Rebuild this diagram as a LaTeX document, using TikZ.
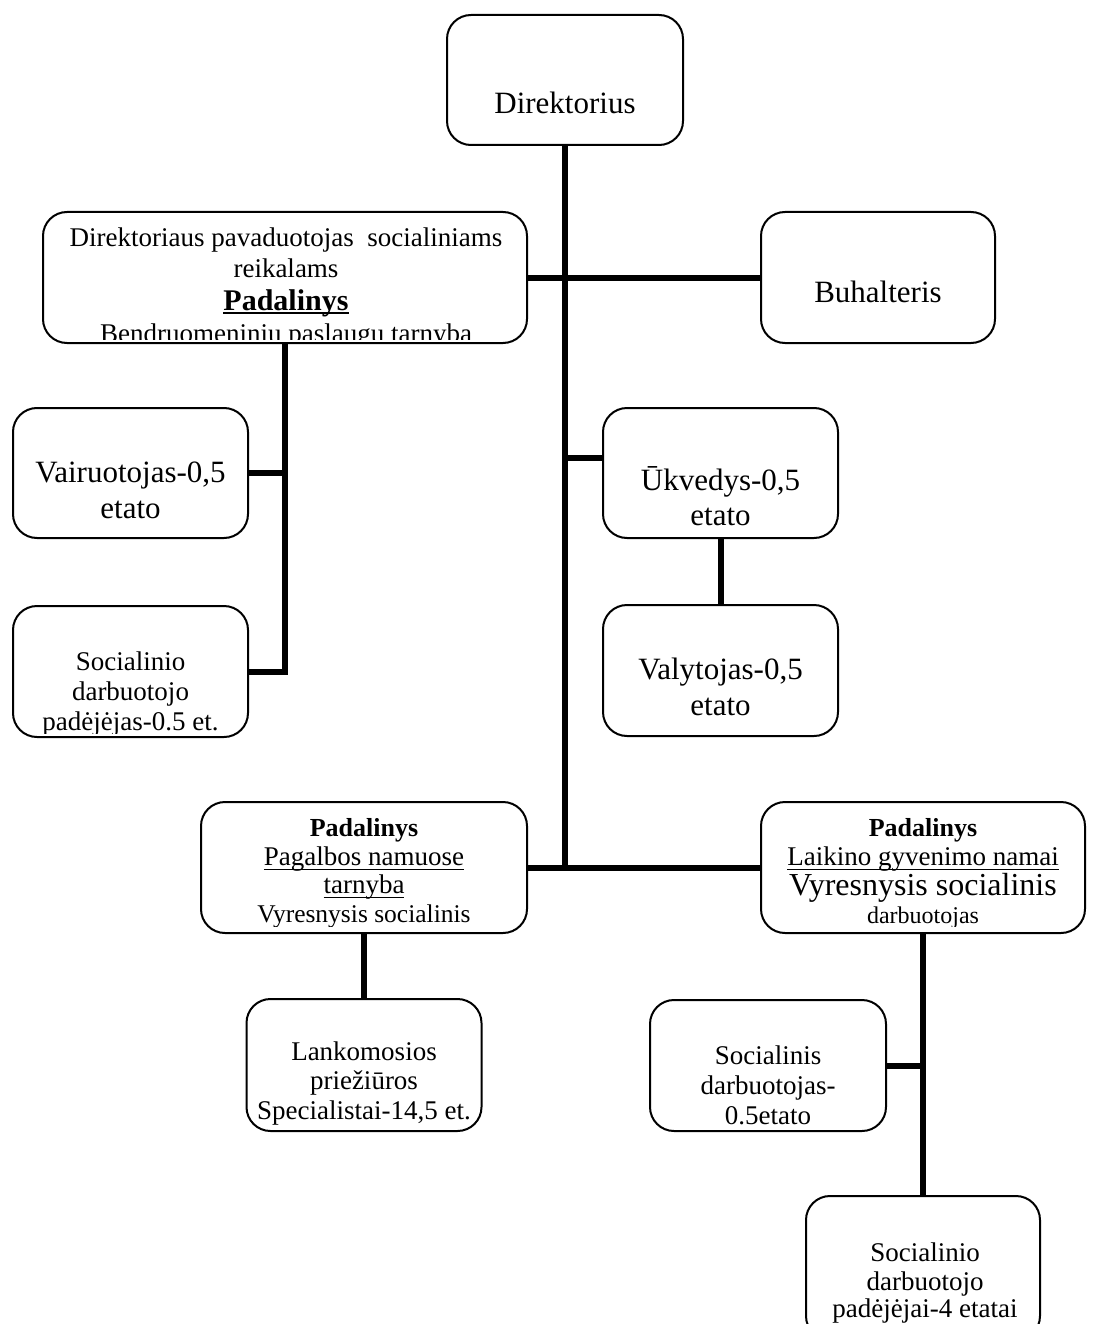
\documentclass[tikz,border=0pt]{standalone}
\usepackage{fontspec}
\setmainfont{Liberation Serif}
\newcommand\ulx[3]{\setbox0=\hbox{#1}\leavevmode\rlap{\rule[-#2]{\wd0}{#3}}\box0}
\newcommand\fs[1]{\fontsize{#1}{#1}\selectfont}
\begin{document}
\begin{tikzpicture}[x=1pt,y=-1pt,
  box/.style={draw, line width=2pt, rounded corners=24pt, fill=white, inner sep=0pt},
  conn/.style={line width=6pt, line join=miter},
  t/.style={anchor=base, inner sep=0pt}]
\useasboundingbox (0,0) rectangle (1094,1324);
\fill[white] (0,0) rectangle (1094,1324);

% boxes
\node[box, minimum width=236pt, minimum height=130pt] (dir) at (565,80) {};
\node[box, minimum width=484pt, minimum height=131pt] (dep) at (285,277.5) {};
\node[box, minimum width=234pt, minimum height=131pt] (buh) at (878,277.5) {};
\node[box, minimum width=235pt, minimum height=130pt] (vai) at (130.5,473) {};
\node[box, minimum width=235pt, minimum height=131pt] (sdp) at (130.5,671.5) {};
\node[box, minimum width=235pt, minimum height=130pt] (ukv) at (720.5,473) {};
\node[box, minimum width=235pt, minimum height=131pt] (val) at (720.5,670.5) {};
\node[box, minimum width=326pt, minimum height=131pt] (pag) at (364,867.5) {};
\node[box, minimum width=324pt, minimum height=131pt] (lai) at (923,867.5) {};
\node[box, minimum width=235pt, minimum height=132pt] (lan) at (364,1065) {};
\node[box, minimum width=236pt, minimum height=131pt] (sdj) at (768,1065.5) {};
\node[box, minimum width=234pt, minimum height=144pt] (sdpj) at (923,1268) {};

% texts
\node[t, font=\fs{31}] (dir-t) at (565,114) {Direktorius};
\begin{scope}
  \clip[rounded corners=24pt] (44,213) rectangle (526,339);
  \node[t, font=\fs{27}] (dep-t1) at (286,247) {Direktoriaus pavaduotojas\ \ socialiniams};
  \node[t, font=\fs{27}] (dep-t2) at (286,277) {reikalams};
  \node[t, font=\bfseries\fs{30}] (dep-t3) at (286,310) {\ulx{Padalinys}{4pt}{2.5pt}};
  \node[t, font=\fs{27}] (dep-t4) at (286,342) {Bendruomeninių paslaugų tarnyba};
\end{scope}
\node[t, font=\fs{31}] (buh-t) at (878,302) {Buhalteris};
\node[t, font=\fs{31}] (vai-t1) at (130.5,482) {Vairuotojas-0,5};
\node[t, font=\fs{31}] (vai-t2) at (130.5,518) {etato};
\node[t, font=\fs{31}] (ukv-t1) at (720.5,490) {Ūkvedys-0,5};
\node[t, font=\fs{31}] (ukv-t2) at (720.5,525) {etato};
\node[t, font=\fs{31}] (val-t1) at (720.5,679) {Valytojas-0,5};
\node[t, font=\fs{31}] (val-t2) at (720.5,715) {etato};
\begin{scope}
  \clip[rounded corners=24pt] (14,607) rectangle (247,733);
  \node[t, font=\fs{27}] (sdp-t1) at (130.5,670) {Socialinio};
  \node[t, font=\fs{27}] (sdp-t2) at (130.5,700) {darbuotojo};
  \node[t, font=\fs{27}] (sdp-t3) at (130.5,730) {padėjėjas-0.5 et.};
\end{scope}
\begin{scope}
  \clip[rounded corners=24pt] (202,803) rectangle (526,926);
  \node[t, font=\bfseries\fs{26}] (pag-t1) at (364,836) {Padalinys};
  \node[t, font=\fs{27}] (pag-t2) at (364,865) {\ulx{Pagalbos namuose}{5pt}{1.5pt}};
  \node[t, font=\fs{27}] (pag-t3) at (364,893) {\ulx{tarnyba}{5pt}{1.5pt}};
  \node[t, font=\fs{25.5}] (pag-t4) at (364,922) {Vyresnysis socialinis};
\end{scope}
\begin{scope}
  \clip[rounded corners=24pt] (762,803) rectangle (1084,926);
  \node[t, font=\bfseries\fs{26}] (lai-t1) at (923,836) {Padalinys};
  \node[t, font=\fs{27}] (lai-t2) at (923,865) {\ulx{Laikino gyvenimo namai}{5pt}{1.5pt}};
  \node[t, font=\fs{32}] (lai-t3) at (923,895) {Vyresnysis socialinis};
  \node[t, font=\fs{24}] (lai-t4) at (923,923) {darbuotojas};
\end{scope}
\node[t, font=\fs{27}] (lan-t1) at (364,1060) {Lankomosios};
\node[t, font=\fs{27}] (lan-t2) at (364,1089) {priežiūros};
\node[t, font=\fs{27}] (lan-t3) at (364,1119) {Specialistai-14,5 et.};
\node[t, font=\fs{27}] (sdj-t1) at (768,1064) {Socialinis};
\node[t, font=\fs{27}] (sdj-t2) at (768,1094) {darbuotojas-};
\node[t, font=\fs{27}] (sdj-t3) at (768,1124) {0.5etato};
\node[t, font=\fs{27}] (sdpj-t1) at (925,1261) {Socialinio};
\node[t, font=\fs{27}] (sdpj-t2) at (925,1290) {darbuotojo};
\node[t, font=\fs{27}] (sdpj-t3) at (925,1317) {padėjėjai-4 etatai};

% connectors
\draw[conn] (dir.south) -- (dir.south |- pag.east);
\draw[conn] (dep.east) -- (buh.west);
\draw[conn] (pag.east) -- (lai.west);
\coordinate (ju) at (565,458);
\draw[conn] (ju) -- (ju -| ukv.west);
\draw[conn] (ukv.south) -- (val.north);
\draw[conn] (dep.south) -- (dep.south |- sdp.east) -- (sdp.east);
\draw[conn] (vai.east) -- (vai.east -| dep.south);
\draw[conn] (pag.south) -- (lan.north);
\draw[conn] (lai.south) -- (sdpj.north);
\draw[conn] (sdj.east) -- (sdj.east -| lai.south);
\end{tikzpicture}
\end{document}
